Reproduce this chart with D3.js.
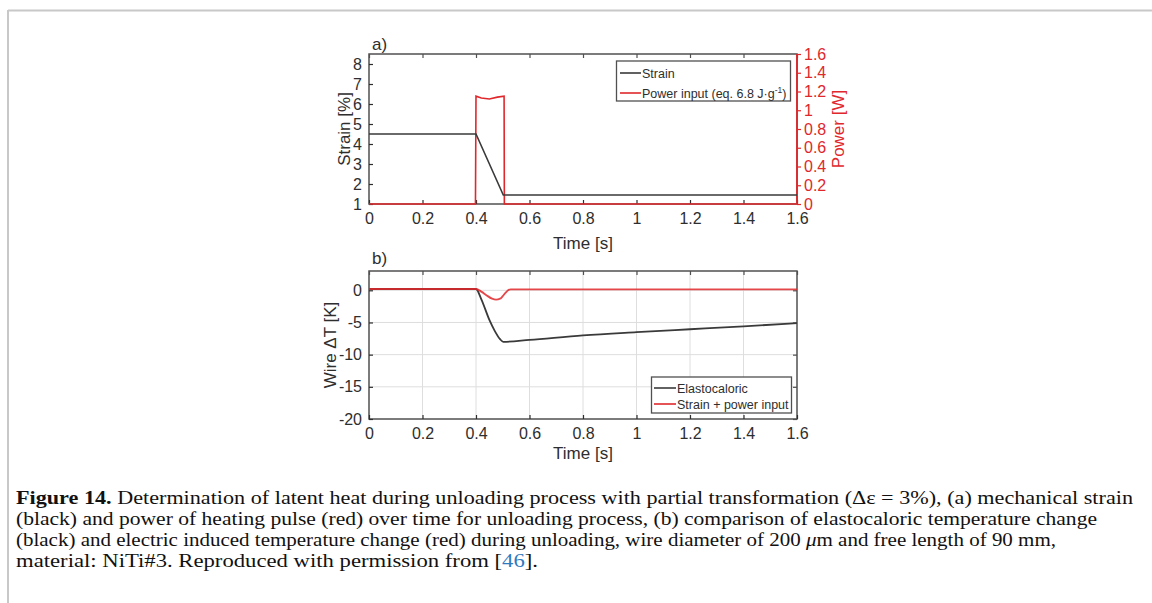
<!DOCTYPE html>
<html><head><meta charset="utf-8">
<script src="https://cdn.jsdelivr.net/npm/d3@7"></script>
<style>body{margin:0;background:#fff}svg{display:block}</style>
</head><body>
<svg id="c" width="1152" height="603"></svg>
<script>
// ---- data ----
const xTickVals = [0, 0.2, 0.4, 0.6, 0.8, 1, 1.2, 1.4, 1.6];
const strainTicks = [1, 2, 3, 4, 5, 6, 7, 8];
const powerTicks = [0, 0.2, 0.4, 0.6, 0.8, 1, 1.2, 1.4, 1.6];
const dTTicks = [-20, -15, -10, -5, 0];

const timeStrain = [0, 0.4, 0.502, 1.6];
const strain = [4.5, 4.5, 1.45, 1.45];

const timePower = [0, 0.398, 0.4, 0.42, 0.45, 0.48, 0.505, 0.506, 1.6];
const power = [0, 0, 1.15, 1.13, 1.12, 1.14, 1.15, 0, 0];

const timeElasto = [0, 0.4, 0.42, 0.45, 0.47, 0.49, 0.502, 0.6, 0.8, 1.0, 1.2, 1.4, 1.6];
const elasto = [0.2, 0.2, -1.4, -4.6, -6.3, -7.6, -8.0, -7.7, -7.0, -6.5, -6.05, -5.6, -5.1];

const timeSP = [0, 0.4, 0.42, 0.44, 0.46, 0.475, 0.49, 0.5, 0.51, 0.52, 0.53, 1.6];
const strainPower = [0.2, 0.2, -0.2, -0.8, -1.3, -1.45, -1.3, -0.9, -0.4, 0.0, 0.15, 0.15];

const captionLines = [
  [{t:"Figure 14.", b:true}, {t:" Determination of latent heat during unloading process with partial transformation (\u0394\u03b5 = 3%), (a) mechanical strain"}],
  [{t:"(black) and power of heating pulse (red) over time for unloading process, (b) comparison of elastocaloric temperature change"}],
  [{t:"(black) and electric induced temperature change (red) during unloading, wire diameter of 200 "}, {t:"\u03bc", i:true}, {t:"m and free length of 90 mm,"}],
  [{t:"material: NiTi#3. Reproduced with permission from ["}, {t:"46", c:"#2f7bbf"}, {t:"]."}]
];
const captionWidths = [1117, 1081, 1040, 522];

// ---- drawing ----
const svg = d3.select("#c");
const FONT = "Liberation Sans, Arial, sans-serif";
const frameCol = "#505050", txtCol = "#2e2e2e", red = "#e0282c", blk = "#3a3a3a";
const fmt = d => String(+d.toFixed(2));
const TICK = 16, TITLE = 17;

// page border
svg.append("line").attr("x1", 8).attr("x2", 1152).attr("y1", 10.5).attr("y2", 10.5).attr("stroke", "#c8c8c8").attr("stroke-width", 2);
svg.append("line").attr("x1", 8).attr("x2", 8).attr("y1", 10).attr("y2", 603).attr("stroke", "#c8c8c8").attr("stroke-width", 2);

const X0 = 369, X1 = 797;
// ---------- panel a ----------
const xa = d3.scaleLinear().domain([0, 1.6]).range([X0, X1]);
const ya = d3.scaleLinear().domain([1, 8.5]).range([204, 54]);
const yp = d3.scaleLinear().domain([0, 1.6]).range([204, 54]);

const ga = svg.append("g");
ga.append("rect").attr("x", X0).attr("y", 54).attr("width", X1 - X0).attr("height", 150).attr("fill", "none").attr("stroke", frameCol).attr("stroke-width", 1.5);

function styleAxis(g, col, size) {
  g.attr("font-size", size).attr("font-family", FONT);
  g.selectAll("path").remove();
  g.selectAll("line").attr("stroke", col).attr("stroke-width", 1.2);
  g.selectAll("text").attr("fill", col).attr("font-family", FONT).attr("font-size", size);
}
ga.append("g").attr("transform", "translate(0,204)")
  .call(d3.axisBottom(xa).tickValues(xTickVals).tickFormat(fmt).tickSizeInner(-4).tickSizeOuter(0).tickPadding(9))
  .call(g => styleAxis(g, txtCol, TICK));
ga.append("g").attr("transform", "translate(0,54)")
  .call(d3.axisTop(xa).tickValues(xTickVals).tickFormat("").tickSizeInner(-4).tickSizeOuter(0))
  .call(g => styleAxis(g, frameCol, TICK));
ga.append("g").attr("transform", `translate(${X0},0)`)
  .call(d3.axisLeft(ya).tickValues(strainTicks).tickFormat(fmt).tickSizeInner(-4).tickSizeOuter(0).tickPadding(7))
  .call(g => styleAxis(g, txtCol, TICK));
ga.append("line").attr("x1", X1).attr("x2", X1).attr("y1", 54).attr("y2", 204).attr("stroke", red).attr("stroke-width", 1.8);
ga.append("g").attr("transform", `translate(${X1},0)`)
  .call(d3.axisRight(yp).tickValues(powerTicks).tickFormat(fmt).tickSizeInner(4).tickSizeOuter(0).tickPadding(3))
  .call(g => styleAxis(g, red, TICK));

const lineA = d3.line().x(d => xa(d[0])).y(d => ya(d[1]));
const lineP = d3.line().x(d => xa(d[0])).y(d => yp(d[1]));
ga.append("path").datum(timePower.map((t, i) => [t, power[i]])).attr("d", lineP).attr("fill", "none").attr("stroke", red).attr("stroke-width", 1.6);
ga.append("path").datum(timeStrain.map((t, i) => [t, strain[i]])).attr("d", lineA).attr("fill", "none").attr("stroke", blk).attr("stroke-width", 1.6);

ga.append("text").attr("x", 372).attr("y", 50).text("a)").attr("font-family", FONT).attr("font-size", TITLE).attr("fill", txtCol);
ga.append("text").attr("x", (X0 + X1) / 2).attr("y", 249).attr("text-anchor", "middle").text("Time [s]").attr("font-family", FONT).attr("font-size", TITLE).attr("fill", txtCol);
ga.append("text").attr("transform", "translate(350,129) rotate(-90)").attr("text-anchor", "middle").text("Strain [%]").attr("font-family", FONT).attr("font-size", TITLE).attr("fill", txtCol);
ga.append("text").attr("transform", "translate(844,129) rotate(-90)").attr("text-anchor", "middle").text("Power [W]").attr("font-family", FONT).attr("font-size", TITLE).attr("fill", red);

const la = ga.append("g");
la.append("rect").attr("x", 616.5).attr("y", 61).attr("width", 174).attr("height", 40).attr("fill", "#fff").attr("stroke", frameCol).attr("stroke-width", 1.3);
const legA = [{n: "Strain", c: blk}, {n: "Power input (eq. 6.8 J\u00b7g", c: red, sup: "-1", tail: ")"}];
legA.forEach((d, i) => {
  const y = 73 + i * 20;
  la.append("line").attr("x1", 620).attr("x2", 641).attr("y1", y).attr("y2", y).attr("stroke", d.c).attr("stroke-width", 1.6);
  const t = la.append("text").attr("x", 642).attr("y", y + 4.5).attr("font-family", FONT).attr("font-size", 12.5).attr("fill", txtCol).text(d.n);
  if (d.sup) {
    t.append("tspan").attr("dy", -5).attr("font-size", 8.5).text(d.sup);
    t.append("tspan").attr("dy", 5).text(d.tail);
  }
});

// ---------- panel b ----------
const yb = d3.scaleLinear().domain([-20, 3]).range([419, 271]);
const gb = svg.append("g");
gb.append("g").selectAll("line").data(xTickVals.slice(1, -1)).join("line")
  .attr("x1", d => xa(d)).attr("x2", d => xa(d)).attr("y1", 271).attr("y2", 419).attr("stroke", "#dedede").attr("stroke-width", 1);
gb.append("g").selectAll("line").data(dTTicks.slice(1)).join("line")
  .attr("x1", X0).attr("x2", X1).attr("y1", d => yb(d)).attr("y2", d => yb(d)).attr("stroke", "#dedede").attr("stroke-width", 1);
gb.append("rect").attr("x", X0).attr("y", 271).attr("width", X1 - X0).attr("height", 148).attr("fill", "none").attr("stroke", frameCol).attr("stroke-width", 1.5);

gb.append("g").attr("transform", "translate(0,419)")
  .call(d3.axisBottom(xa).tickValues(xTickVals).tickFormat(fmt).tickSizeInner(-4).tickSizeOuter(0).tickPadding(9))
  .call(g => styleAxis(g, txtCol, TICK));
gb.append("g").attr("transform", "translate(0,271)")
  .call(d3.axisTop(xa).tickValues(xTickVals).tickFormat("").tickSizeInner(-4).tickSizeOuter(0))
  .call(g => styleAxis(g, frameCol, TICK));
gb.append("g").attr("transform", `translate(${X0},0)`)
  .call(d3.axisLeft(yb).tickValues(dTTicks).tickFormat(fmt).tickSizeInner(-4).tickSizeOuter(0).tickPadding(7))
  .call(g => styleAxis(g, txtCol, TICK));
gb.append("g").attr("transform", `translate(${X1},0)`)
  .call(d3.axisRight(yb).tickValues(dTTicks).tickFormat("").tickSizeInner(-4).tickSizeOuter(0))
  .call(g => styleAxis(g, frameCol, TICK));

const lineB = d3.line().x(d => xa(d[0])).y(d => yb(d[1])).curve(d3.curveMonotoneX);
gb.append("path").datum(timeElasto.map((t, i) => [t, elasto[i]])).attr("d", lineB).attr("fill", "none").attr("stroke", blk).attr("stroke-width", 1.8);
gb.append("path").datum(timeSP.map((t, i) => [t, strainPower[i]])).attr("d", lineB).attr("fill", "none").attr("stroke", red).attr("stroke-width", 1.9).attr("opacity", 0.85);

gb.append("text").attr("x", 372).attr("y", 264).text("b)").attr("font-family", FONT).attr("font-size", TITLE).attr("fill", txtCol);
gb.append("text").attr("x", (X0 + X1) / 2).attr("y", 459).attr("text-anchor", "middle").text("Time [s]").attr("font-family", FONT).attr("font-size", TITLE).attr("fill", txtCol);
gb.append("text").attr("transform", "translate(336,345) rotate(-90)").attr("text-anchor", "middle").text("Wire \u0394T [K]").attr("font-family", FONT).attr("font-size", TITLE).attr("fill", txtCol);

const lb = gb.append("g");
lb.append("rect").attr("x", 651.5).attr("y", 377).attr("width", 140).attr("height", 36).attr("fill", "#fff").attr("stroke", frameCol).attr("stroke-width", 1.3);
[{n: "Elastocaloric", c: blk}, {n: "Strain + power input", c: red}].forEach((d, i) => {
  const y = 388 + i * 16;
  lb.append("line").attr("x1", 654).attr("x2", 676).attr("y1", y).attr("y2", y).attr("stroke", d.c).attr("stroke-width", 1.6);
  lb.append("text").attr("x", 677).attr("y", y + 4.5).attr("font-family", FONT).attr("font-size", 12.5).attr("fill", txtCol).text(d.n);
});

// ---------- caption ----------
const cap = svg.append("g");
captionLines.forEach((parts, i) => {
  const t = cap.append("text").attr("x", 16).attr("y", 504 + i * 21)
    .attr("font-family", "Liberation Serif, Times New Roman, serif").attr("font-size", 19).attr("fill", "#111")
    .attr("textLength", captionWidths[i]).attr("lengthAdjust", "spacingAndGlyphs");
  parts.forEach(p => {
    const s = t.append("tspan").text(p.t);
    if (p.b) s.attr("font-weight", "bold");
    if (p.i) s.attr("font-style", "italic");
    if (p.c) s.attr("fill", p.c);
  });
});
</script>
</body></html>
